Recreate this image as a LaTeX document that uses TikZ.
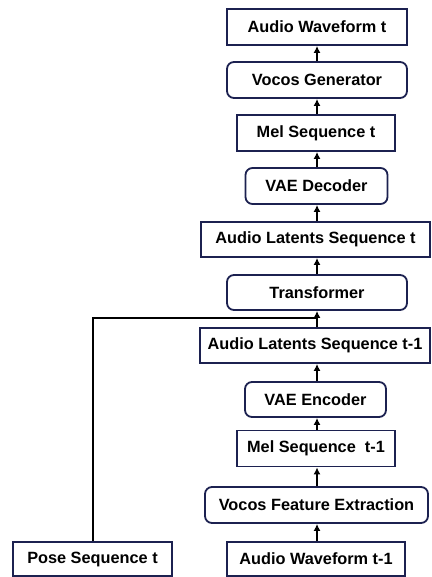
\documentclass[tikz,border=0pt]{standalone}
\usepackage{fontspec}
\setmainfont{Liberation Sans}
\usetikzlibrary{arrows.meta}
\definecolor{boxline}{HTML}{1C2150}
\tikzset{
  x=1pt, y=-1pt,
  base/.style={draw=boxline, line width=1.8pt, fill=white, inner sep=0pt,
    font=\fontsize{16.3}{18}\selectfont\bfseries, text=black},
  databox/.style={base, rectangle},
  procbox/.style={base, rectangle, rounded corners=7pt},
  flow/.style={line width=1.5pt, draw=black, -{Latex[length=7pt,width=7pt]}},
}
\begin{document}
\begin{tikzpicture}
\useasboundingbox (0,0) rectangle (431,577);
% output chain (top)
\node[databox, minimum width=180pt, minimum height=36pt] (awt)  at (317,27)    {Audio Waveform t};
\node[procbox, minimum width=180pt, minimum height=36pt] (vg)   at (317,80)    {Vocos Generator};
\node[databox, minimum width=158pt, minimum height=36pt] (mst)  at (316,133)   {Mel Sequence t};
\node[procbox, minimum width=142pt, minimum height=36pt] (vaed) at (316.5,186) {VAE Decoder};
\node[databox, minimum width=229pt, minimum height=35pt] (alst) at (315.5,239.5) {Audio Latents Sequence t};
\node[procbox, minimum width=180pt, minimum height=35pt] (tr)   at (317,292.5) {Transformer};
% input chain (bottom)
\node[databox, minimum width=230pt, minimum height=35pt] (alsp) at (315,345.5) {Audio Latents Sequence t-1};
\node[procbox, minimum width=141pt, minimum height=35pt] (vaee) at (315.5,399.5) {VAE Encoder};
\node[databox, minimum width=158pt, minimum height=36pt] (msp)  at (316,448.5) {Mel Sequence\ \ t-1};
\node[procbox, minimum width=223pt, minimum height=36pt] (vfe)  at (316.5,505) {Vocos Feature Extraction};
\node[databox, minimum width=178pt, minimum height=34pt] (awp)  at (316,559) {Audio Waveform t-1};
\node[databox, minimum width=159pt, minimum height=34pt] (pose) at (92.5,559) {Pose Sequence t};
% connectors
\coordinate (c) at (317,0);
\draw[flow] (awp.north -| c) -- (vfe.south -| c);
\draw[flow] (vfe.north -| c) -- (msp.south -| c);
\draw[flow] (msp.north -| c) -- (vaee.south -| c);
\draw[flow] (vaee.north -| c) -- (alsp.south -| c);
\draw[flow] (alsp.north -| c) -- (tr.south -| c);
\draw[flow] (tr.north -| c) -- (alst.south -| c);
\draw[flow] (alst.north -| c) -- (vaed.south -| c);
\draw[flow] (vaed.north -| c) -- (mst.south -| c);
\draw[flow] (mst.north -| c) -- (vg.south -| c);
\draw[flow] (vg.north -| c) -- (awt.south -| c);
\coordinate (bend) at (93,318);
\draw[line width=1.5pt] (pose.north -| bend) -- (bend) -- (bend -| c);
\end{tikzpicture}
\end{document}
